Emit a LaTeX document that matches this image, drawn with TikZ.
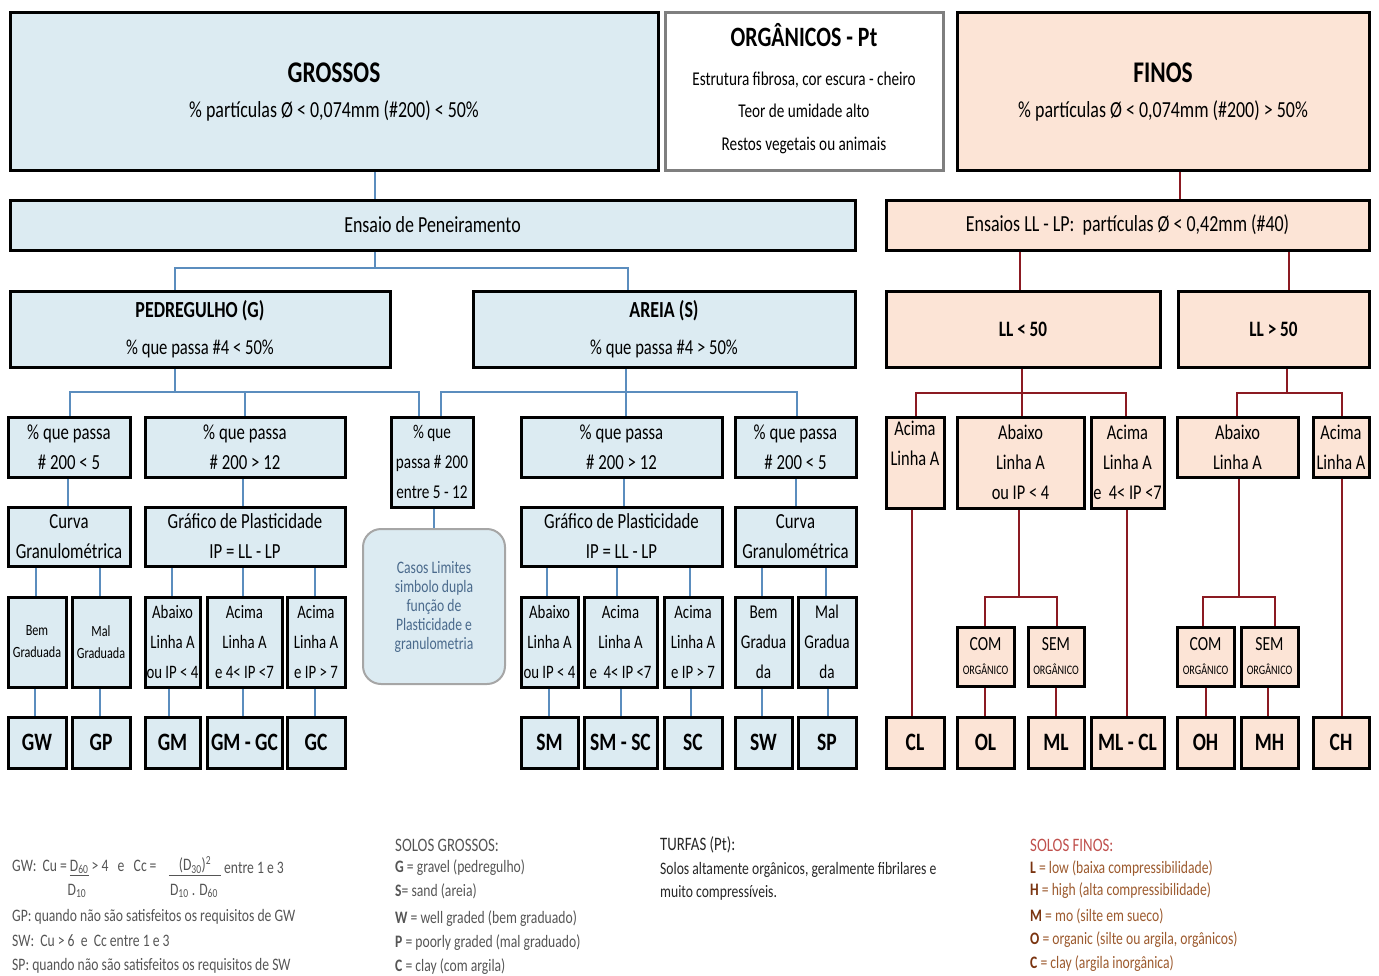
\documentclass[tikz,border=0pt]{standalone}
\usepackage{fontspec}
\setmainfont[FakeStretch=0.78]{Carlito}
\usetikzlibrary{backgrounds}
\definecolor{bxblue}{HTML}{DCEBF2}
\definecolor{bxpeach}{HTML}{FCE4D6}
\definecolor{lnblue}{HTML}{5B8DBE}
\definecolor{lnred}{HTML}{8B1A22}
\definecolor{txtgray}{HTML}{555555}
\definecolor{casostxt}{HTML}{4A6A8C}
\definecolor{finred}{HTML}{C0504D}
\definecolor{finbrown}{HTML}{9C5A2E}
\definecolor{finbold}{HTML}{7A3410}
\definecolor{orgborder}{HTML}{7F7F7F}
\definecolor{casosborder}{HTML}{A6A6A6}
\newcommand{\fsz}[2]{\fontsize{#1}{#2}\selectfont}
\newcommand{\bx}[7]{\node[#6, minimum width={#4-#2}, minimum height={#5-#3}] (#1) at ({(#2+#4)/2},{(#3+#5)/2}) {#7};}
\tikzset{
  base/.style={rectangle, draw=black, line width=3pt, inner sep=0pt, align=center, text=black},
  bb/.style={base, fill=bxblue},
  pb/.style={base, fill=bxpeach},
  orgbox/.style={base, draw=orgborder, fill=white},
  casosbox/.style={rectangle, rounded corners=18pt, draw=casosborder, line width=2pt, fill=bxblue, align=center, text=casostxt, font=\fsz{17.5}{19}},
  tbig/.style={font=\fsz{30}{36}\bfseries},
  tsub/.style={font=\fsz{23}{28}},
  tmid/.style={font=\fsz{23}{26}},
  tb20/.style={font=\fsz{23}{26}\bfseries},
  t21/.style={font=\fsz{21.5}{30}},
  tmidbox/.style={font=\fsz{19.5}{30}},
  tfin/.style={font=\fsz{21}{30}},
  t19/.style={font=\fsz{19}{30}},
  tsmall/.style={font=\fsz{15.6}{22}},
  tcode/.style={font=\fsz{25}{30}\bfseries},
  torg/.style={font=\fsz{20}{24}},
  bl/.style={draw=lnblue, line width=1.3pt},
  rl/.style={draw=lnred, line width=2.2pt},
  leg/.style={anchor=west, inner sep=0pt, font=\fsz{17.5}{20}, text=txtgray},
  legt/.style={leg, font=\fsz{19}{22}},
  legf/.style={anchor=west, inner sep=0pt, font=\fsz{17.5}{20}, text=finbrown},
  plain/.style={inner sep=0pt, text=black},
}
\begin{document}
\begin{tikzpicture}[x=1pt,y=-1pt]
\useasboundingbox (0,0) rectangle (1379,975);
% ---------- top row ----------
\bx{gros}{10}{12}{658}{170}{bb}{}
\node[plain, tbig] (grost) at (334,73) {GROSSOS};
\node[plain, tsub] (gross) at (334,111) {\% partículas Ø < 0,074mm (\#200) < 50\%};
\bx{org}{665}{12}{943}{170}{orgbox}{}
\node[plain, font=\fsz{28}{30}\bfseries] (orgt) at (804,35) {ORGÂNICOS - Pt};
\node[plain, font=\fsz{19.5}{22}] (org1) at (804,80) {Estrutura fibrosa, cor escura - cheiro};
\node[plain, font=\fsz{19.5}{22}] (org2) at (804,111) {Teor de umidade alto};
\node[plain, font=\fsz{19.5}{22}] (org3) at (804,145) {Restos vegetais ou animais};
\bx{fin}{957}{12}{1369}{170}{pb}{}
\node[plain, tbig] (fint) at (1163,73) {FINOS};
\node[plain, tsub] (fins) at (1163,111) {\% partículas Ø < 0,074mm (\#200) > 50\%};
% ---------- row 2 ----------
\bx{ens}{10}{200}{855}{250}{bb, tmid}{Ensaio de Peneiramento}
\bx{ensll}{886}{200}{1369}{250}{pb, tmid}{Ensaios LL - LP:\ \ partículas Ø < 0,42mm (\#40)}
% ---------- row 3 ----------
\bx{ped}{10}{291}{390}{367}{bb}{}
\node[plain, tb20] (pedt) at (200,311) {PEDREGULHO (G)};
\node[plain, font=\fsz{21.3}{24}] (peds) at (200,349) {\% que passa \#4 < 50\%};
\bx{are}{473}{291}{855}{367}{bb}{}
\node[plain, tb20] (aret) at (664,311) {AREIA (S)};
\node[plain, font=\fsz{21.3}{24}] (ares) at (664,349) {\% que passa \#4 > 50\%};
\bx{ll1}{886}{291}{1160}{367}{pb, font=\fsz{22}{26}\bfseries}{LL < 50}
\bx{ll2}{1178}{291}{1369}{367}{pb, font=\fsz{22}{26}\bfseries}{LL > 50}
% ---------- row 4 ----------
\bx{g5}{8}{417}{130}{477}{bb, t21}{\% que passa\\\# 200 < 5}
\bx{g12}{145}{417}{345}{477}{bb, t21}{\% que passa\\\# 200 > 12}
\bx{mid}{391}{417}{473}{507}{bb, tmidbox}{\% que\\passa \# 200\\entre 5 - 12}
\bx{s12}{521}{417}{722}{477}{bb, t21}{\% que passa\\\# 200 > 12}
\bx{s5}{735}{417}{856}{477}{bb, t21}{\% que passa\\\# 200 < 5}
\bx{f1}{886}{417}{944}{508}{pb, tfin}{Acima\\Linha A\\\strut}
\bx{f2}{957}{417}{1084}{508}{pb, tfin}{Abaixo\\Linha A\\ou IP < 4}
\bx{f3}{1091}{417}{1164}{508}{pb, tfin}{Acima\\Linha A\\e\ \ 4< IP <7}
\bx{f4}{1177}{417}{1298}{477}{pb, tfin}{Abaixo\\Linha A}
\bx{f5}{1313}{417}{1369}{477}{pb, tfin}{Acima\\Linha A}
% ---------- row 5 ----------
\bx{gcur}{8}{507}{130}{566}{bb, t21}{Curva\\Granulométrica}
\bx{ggraf}{145}{507}{345}{566}{bb, t21}{Gráfico de Plasticidade\\IP = LL - LP}
\bx{casos}{363}{529}{505}{684}{casosbox}{Casos Limites\\simbolo dupla\\função de\\Plasticidade e\\granulometria}
\bx{sgraf}{521}{507}{722}{566}{bb, t21}{Gráfico de Plasticidade\\IP = LL - LP}
\bx{scur}{735}{507}{856}{566}{bb, t21}{Curva\\Granulométrica}
% ---------- row 6 ----------
\bx{gbem}{8}{597}{66}{687}{bb, tsmall}{Bem\\Graduada}
\bx{gmal}{72}{597}{130}{687}{bb, tsmall}{Mal\\Graduada}
\bx{gab}{145}{597}{200}{687}{bb, t19}{Abaixo\\Linha A\\ou IP < 4}
\bx{gac}{207}{597}{282}{687}{bb, t19}{Acima\\Linha A\\e 4< IP <7}
\bx{gac2}{287}{597}{345}{687}{bb, t19}{Acima\\Linha A\\e IP > 7}
\bx{sab}{521}{597}{578}{687}{bb, t19}{Abaixo\\Linha A\\ou IP < 4}
\bx{sac}{584}{597}{657}{687}{bb, t19}{Acima\\Linha A\\e\ \ 4< IP <7}
\bx{sac2}{664}{597}{722}{687}{bb, t19}{Acima\\Linha A\\e IP > 7}
\bx{sbem}{735}{597}{792}{687}{bb, font=\fsz{19.5}{30}}{Bem\\Gradua\\da}
\bx{smal}{798}{597}{856}{687}{bb, font=\fsz{19.5}{30}}{Mal\\Gradua\\da}
\bx{fcom1}{957}{627}{1014}{686}{pb, torg}{COM\\{\fsz{13}{24}ORGÂNICO}}
\bx{fsem1}{1028}{627}{1084}{686}{pb, torg}{SEM\\{\fsz{13}{24}ORGÂNICO}}
\bx{fcom2}{1177}{627}{1234}{686}{pb, torg}{COM\\{\fsz{13}{24}ORGÂNICO}}
\bx{fsem2}{1241}{627}{1298}{686}{pb, torg}{SEM\\{\fsz{13}{24}ORGÂNICO}}
% ---------- row 7 ----------
\bx{GW}{8}{717}{66}{768}{bb, tcode}{GW}
\bx{GP}{72}{717}{130}{768}{bb, tcode}{GP}
\bx{GM}{145}{717}{200}{768}{bb, tcode}{GM}
\bx{GMGC}{207}{717}{282}{768}{bb, tcode}{GM - GC}
\bx{GC}{287}{717}{345}{768}{bb, tcode}{GC}
\bx{SM}{521}{717}{578}{768}{bb, tcode}{SM}
\bx{SMSC}{584}{717}{657}{768}{bb, tcode}{SM - SC}
\bx{SC}{664}{717}{722}{768}{bb, tcode}{SC}
\bx{SW}{735}{717}{792}{768}{bb, tcode}{SW}
\bx{SP}{798}{717}{856}{768}{bb, tcode}{SP}
\bx{CL}{886}{717}{944}{768}{pb, tcode}{CL}
\bx{OL}{957}{717}{1014}{768}{pb, tcode}{OL}
\bx{ML}{1028}{717}{1084}{768}{pb, tcode}{ML}
\bx{MLCL}{1091}{717}{1164}{768}{pb, tcode}{ML - CL}
\bx{OH}{1177}{717}{1234}{768}{pb, tcode}{OH}
\bx{MH}{1241}{717}{1298}{768}{pb, tcode}{MH}
\bx{CH}{1313}{717}{1369}{768}{pb, tcode}{CH}
% ---------- connectors ----------
\begin{pgfonlayer}{background}
\coordinate (jg) at (375,268);
\coordinate (jped) at (175,392);
\coordinate (jare) at (626,392);
\coordinate (jll1) at (1022,393);
\coordinate (jll2) at (1287,393);
\coordinate (jf2) at (1019,597);
\coordinate (jf4) at (1239,597);
\draw[bl] (gros.south -| jg) -- (ens.north -| jg);
\draw[bl] (ens.south -| jg) -- (jg);
\draw[bl] (ped.north -| 175,0) -- (175,268) -- (628,268) -- (are.north -| 628,0);
\draw[bl] (ped.south -| jped) -- (jped);
\draw[bl] (g5.north -| 70,0) -- (70,392) -- (419,392) -- (mid.north -| 419,0);
\draw[bl] (245,392) -- (g12.north -| 245,0);
\draw[bl] (are.south -| jare) -- (s12.north -| jare);
\draw[bl] (mid.north -| 441,0) -- (441,392) -- (797,392) -- (s5.north -| 797,0);
\draw[bl] (g5.south -| 68,0) -- (gcur.north -| 68,0);
\draw[bl] (g12.south -| 243,0) -- (ggraf.north -| 243,0);
\draw[bl] (mid.south -| 434,0) -- (casos.north -| 434,0);
\draw[bl] (s12.south -| 624,0) -- (sgraf.north -| 624,0);
\draw[bl] (s5.south -| 796,0) -- (scur.north -| 796,0);
\draw[bl] (gcur.south -| 36,0) -- (gbem.north -| 36,0);
\draw[bl] (gcur.south -| 100,0) -- (gmal.north -| 100,0);
\draw[bl] (ggraf.south -| 172,0) -- (gab.north -| 172,0);
\draw[bl] (ggraf.south -| 243,0) -- (gac.north -| 243,0);
\draw[bl] (ggraf.south -| 315,0) -- (gac2.north -| 315,0);
\draw[bl] (sgraf.south -| 547,0) -- (sab.north -| 547,0);
\draw[bl] (sgraf.south -| 617,0) -- (sac.north -| 617,0);
\draw[bl] (sgraf.south -| 690,0) -- (sac2.north -| 690,0);
\draw[bl] (scur.south -| 762,0) -- (sbem.north -| 762,0);
\draw[bl] (scur.south -| 826,0) -- (smal.north -| 826,0);
\draw[bl] (gbem.south -| 35,0) -- (GW.north -| 35,0);
\draw[bl] (gmal.south -| 100,0) -- (GP.north -| 100,0);
\draw[bl] (gab.south -| 169,0) -- (GM.north -| 169,0);
\draw[bl] (gac.south -| 243,0) -- (GMGC.north -| 243,0);
\draw[bl] (gac2.south -| 315,0) -- (GC.north -| 315,0);
\draw[bl] (sab.south -| 549,0) -- (SM.north -| 549,0);
\draw[bl] (sac.south -| 621,0) -- (SMSC.north -| 621,0);
\draw[bl] (sac2.south -| 691,0) -- (SC.north -| 691,0);
\draw[bl] (sbem.south -| 762,0) -- (SW.north -| 762,0);
\draw[bl] (smal.south -| 828,0) -- (SP.north -| 828,0);
% red
\draw[rl] (fin.south -| 1180,0) -- (ensll.north -| 1180,0);
\draw[rl] (ensll.south -| 1020,0) -- (ll1.north -| 1020,0);
\draw[rl] (ensll.south -| 1289,0) -- (ll2.north -| 1289,0);
\draw[rl] (ll1.south -| jll1) -- (jll1);
\draw[rl] (f1.north -| 916,0) -- (916,393) -- (1126,393) -- (f3.north -| 1126,0);
\draw[rl] (jll1) -- (f2.north -| jll1);
\draw[rl] (ll2.south -| jll2) -- (jll2);
\draw[rl] (f4.north -| 1237,0) -- (1237,393) -- (1342,393) -- (f5.north -| 1342,0);
\draw[rl] (f1.south -| 912,0) -- (CL.north -| 912,0);
\draw[rl] (f2.south -| jf2) -- (jf2);
\draw[rl] (fcom1.north -| 985,0) -- (985,597) -- (1057,597) -- (fsem1.north -| 1057,0);
\draw[rl] (fcom1.south -| 985,0) -- (OL.north -| 985,0);
\draw[rl] (fsem1.south -| 1056,0) -- (ML.north -| 1056,0);
\draw[rl] (f3.south -| 1127,0) -- (MLCL.north -| 1127,0);
\draw[rl] (f4.south -| jf4) -- (jf4);
\draw[rl] (fcom2.north -| 1203,0) -- (1203,597) -- (1275,597) -- (fsem2.north -| 1275,0);
\draw[rl] (fcom2.south -| 1206,0) -- (OH.north -| 1206,0);
\draw[rl] (fsem2.south -| 1268,0) -- (MH.north -| 1268,0);
\draw[rl] (f5.south -| 1342,0) -- (CH.north -| 1342,0);
\end{pgfonlayer}
% ---------- legend ----------
\node[leg] (gw) at (12,868) {GW:\ \ Cu\,= \underline{D\textsubscript{60}} > 4\ \ \ e\ \ \ Cc\,=};
\node[leg, anchor=center] (gwn) at (195,866) {\underline{\hspace{10pt}(D\textsubscript{30})\textsuperscript{2}\hspace{10pt}}};
\node[leg] (gwe) at (224,868) {entre 1 e 3};
\node[leg, anchor=center] (gwd1) at (77,891) {D\textsubscript{10}};
\node[leg, anchor=center] (gwd2) at (194,891) {D\textsubscript{10} . D\textsubscript{60}};
\node[leg] (gp) at (12,917) {GP: quando não são satisfeitos os requisitos de GW};
\node[leg] (sw) at (12,941) {SW:\ \ Cu > 6\ \ e\ \ Cc entre 1 e 3};
\node[leg] (sp) at (12,966) {SP: quando não são satisfeitos os requisitos de SW};
\node[legt] (sg) at (395,845) {SOLOS GROSSOS:};
\node[leg] (sg1) at (395,868) {\textbf{G} = gravel (pedregulho)};
\node[leg] (sg2) at (395,891) {\textbf{S}= sand (areia)};
\node[leg] (sg3) at (395,919) {\textbf{W} = well graded (bem graduado)};
\node[leg] (sg4) at (395,943) {\textbf{P} = poorly graded (mal graduado)};
\node[leg] (sg5) at (395,967) {\textbf{C} = clay (com argila)};
\node[legt, text=black!85] (tu) at (660,845) {TURFAS (Pt):};
\node[leg, text=black!85] (tu1) at (660,870) {Solos altamente orgânicos, geralmente fibrilares e};
\node[leg, text=black!85] (tu2) at (660,893) {muito compressíveis.};
\node[legt, text=finred] (sf) at (1030,845) {SOLOS FINOS:};
\node[legf] (sf1) at (1030,868) {\textcolor{finbold}{\textbf{L}} = low (baixa compressibilidade)};
\node[legf] (sf2) at (1030,891) {\textcolor{finbold}{\textbf{H}} = high (alta compressibilidade)};
\node[legf] (sf3) at (1030,916) {\textcolor{finbold}{\textbf{M}} = mo (silte em sueco)};
\node[legf] (sf4) at (1030,940) {\textcolor{finbold}{\textbf{O}} = organic (silte ou argila, orgânicos)};
\node[legf] (sf5) at (1030,964) {\textcolor{finbold}{\textbf{C}} = clay (argila inorgânica)};
\end{tikzpicture}
\end{document}
